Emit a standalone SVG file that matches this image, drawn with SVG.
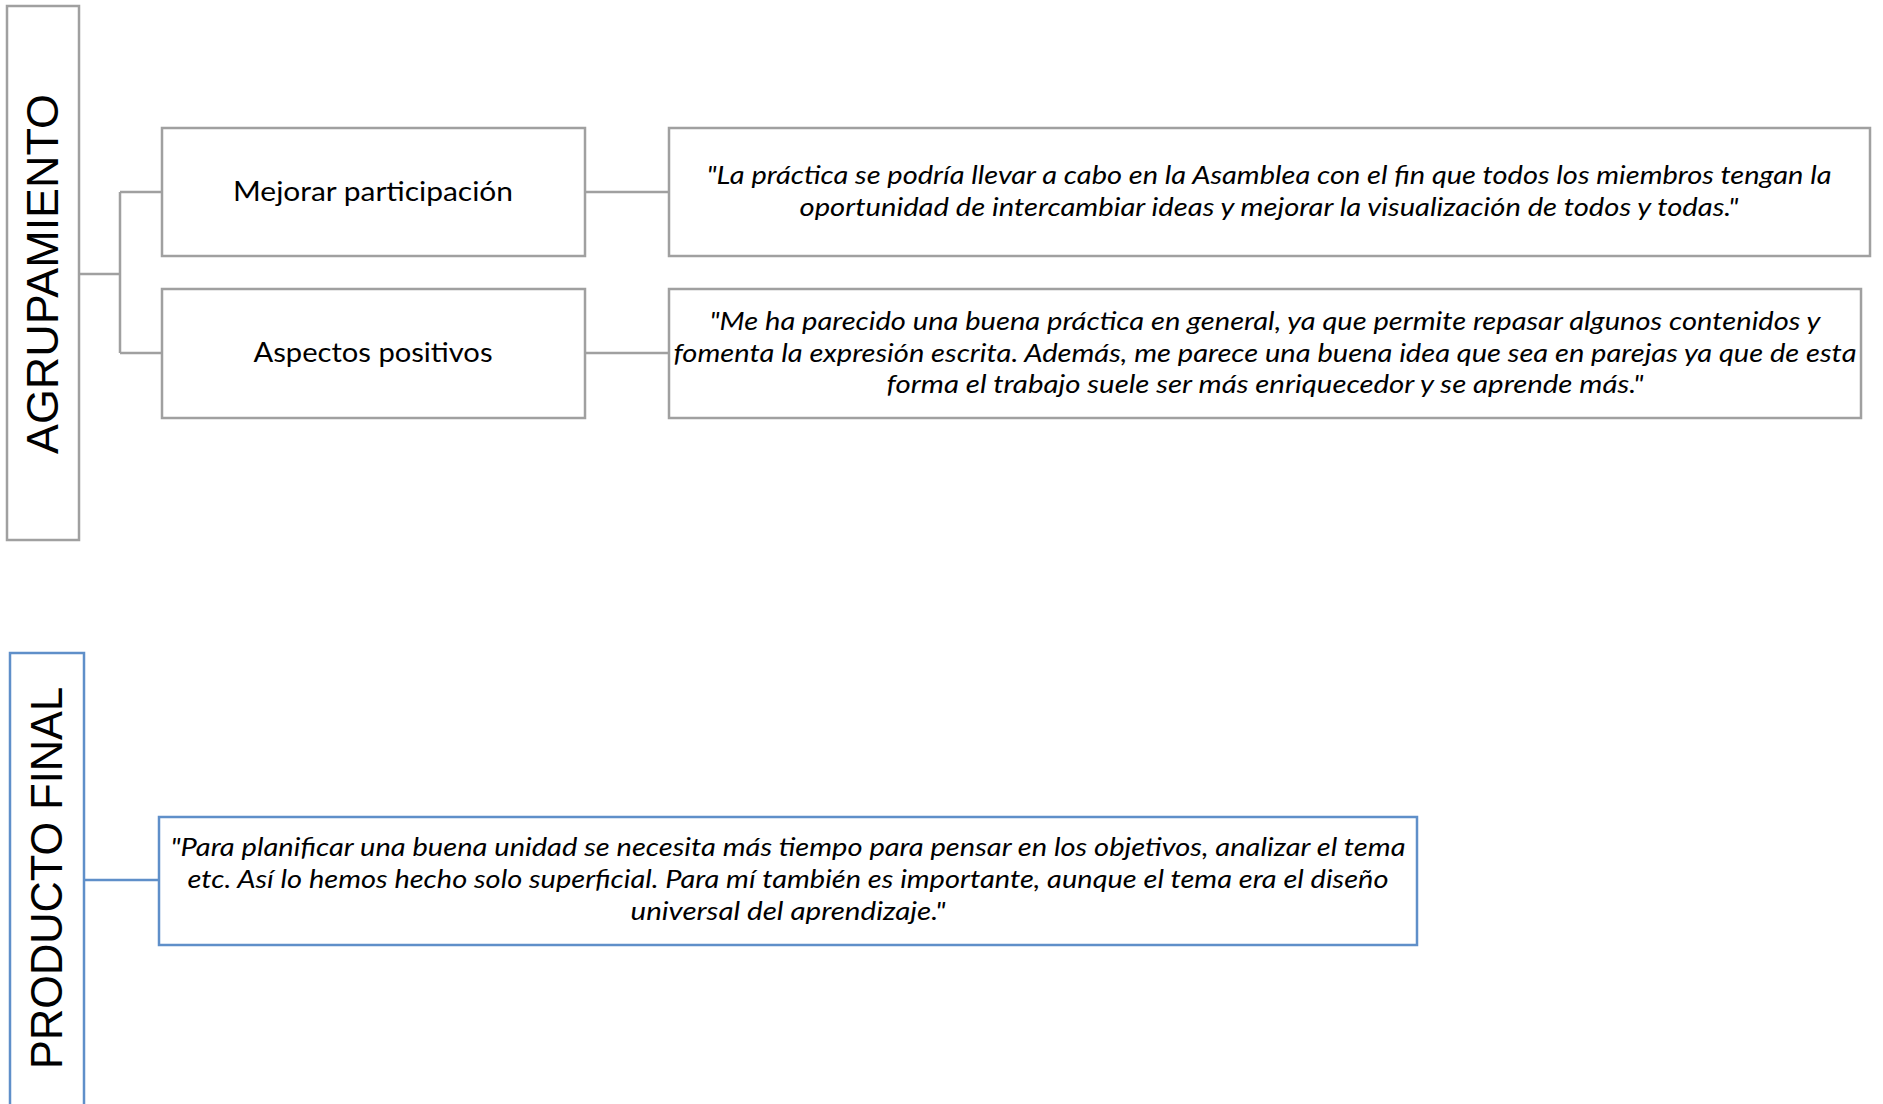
<svg xmlns="http://www.w3.org/2000/svg" width="1883" height="1104" viewBox="0 0 1883 1104">
<style>
.g{fill:#fff;stroke:#a0a0a0;stroke-width:2.5}
.b{fill:#fff;stroke:#5f8fc9;stroke-width:2.5}
.cg{fill:none;stroke:#a0a0a0;stroke-width:2.5}
.cb{fill:none;stroke:#5f8fc9;stroke-width:2.5}
.t{font-family:Lato,"Open Sans",sans-serif;font-size:27px;fill:#000;text-anchor:middle}
.q{font-family:Lato,"Open Sans",sans-serif;font-size:25px;font-style:italic;fill:#000;text-anchor:middle}
.v{font-family:"Liberation Sans",Arial,sans-serif;font-size:44px;fill:#000;text-anchor:middle}
</style>
<rect width="1883" height="1104" fill="#fff"/>
<g id="connectors">
<path class="cg" d="M79 274H120M120 192V353M120 192H162M120 353H162"/>
<path class="cg" d="M585 192H669M585 353H669"/>
<path class="cb" d="M84 880H159"/>
</g>
<g id="agrupamiento">
<rect class="g" x="7" y="6" width="72" height="534"/>
<text class="v" transform="translate(58,274) rotate(-90)" textLength="360" lengthAdjust="spacingAndGlyphs">AGRUPAMIENTO</text>
</g>
<g id="mejorar">
<rect class="g" x="162" y="128" width="423" height="128"/>
<text class="t" x="373" y="201" textLength="280" lengthAdjust="spacingAndGlyphs">Mejorar participación</text>
</g>
<g id="aspectos">
<rect class="g" x="162" y="289" width="423" height="129"/>
<text class="t" x="373" y="362" textLength="239" lengthAdjust="spacingAndGlyphs">Aspectos positivos</text>
</g>
<g id="quote1">
<rect class="g" x="669" y="128" width="1201" height="128"/>
<text class="q" x="1269" y="184" textLength="1125" lengthAdjust="spacingAndGlyphs">"La práctica se podría llevar a cabo en la Asamblea con el fin que todos los miembros tengan la</text>
<text class="q" x="1269" y="216" textLength="939" lengthAdjust="spacingAndGlyphs">oportunidad de intercambiar ideas y mejorar la visualización de todos y todas."</text>
</g>
<g id="quote2">
<rect class="g" x="669" y="289" width="1192" height="129"/>
<text class="q" x="1265" y="330" textLength="1111" lengthAdjust="spacingAndGlyphs">"Me ha parecido una buena práctica en general, ya que permite repasar algunos contenidos y</text>
<text class="q" x="1265" y="362" textLength="1183" lengthAdjust="spacingAndGlyphs">fomenta la expresión escrita. Además, me parece una buena idea que sea en parejas ya que de esta</text>
<text class="q" x="1265" y="393" textLength="757" lengthAdjust="spacingAndGlyphs">forma el trabajo suele ser más enriquecedor y se aprende más."</text>
</g>
<g id="producto">
<rect class="b" x="10" y="653" width="74" height="460"/>
<text class="v" transform="translate(62,878) rotate(-90)" textLength="382" lengthAdjust="spacingAndGlyphs">PRODUCTO FINAL</text>
</g>
<g id="quote3">
<rect class="b" x="159" y="817" width="1258" height="128"/>
<text class="q" x="788" y="856" textLength="1235" lengthAdjust="spacingAndGlyphs">"Para planificar una buena unidad se necesita más tiempo para pensar en los objetivos, analizar el tema</text>
<text class="q" x="788" y="888" textLength="1201" lengthAdjust="spacingAndGlyphs">etc. Así lo hemos hecho solo superficial. Para mí también es importante, aunque el tema era el diseño</text>
<text class="q" x="788" y="920" textLength="315" lengthAdjust="spacingAndGlyphs">universal del aprendizaje."</text>
</g>
</svg>
